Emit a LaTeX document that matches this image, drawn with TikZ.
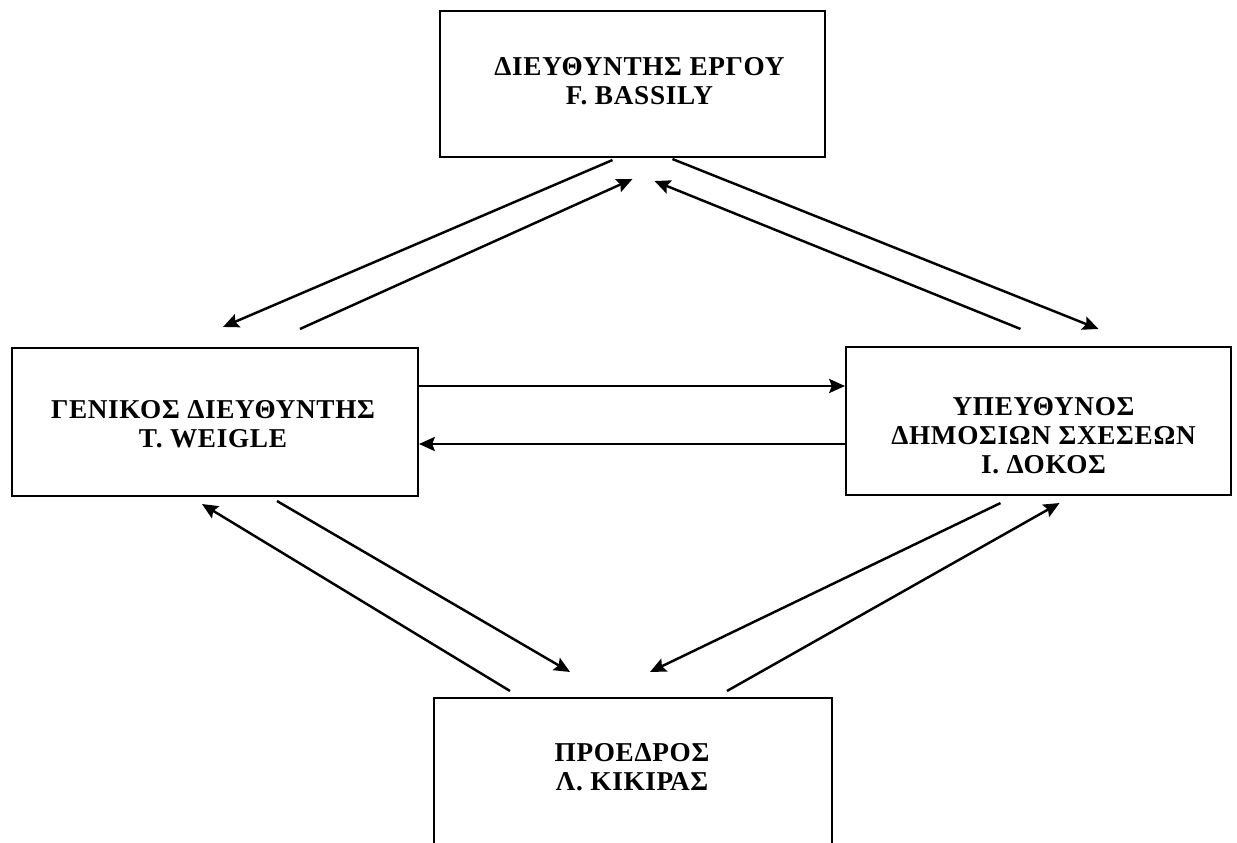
\documentclass[tikz,border=0pt]{standalone}
\usepackage{fontspec}
\setmainfont{Liberation Serif}[LetterSpace=2.5]
\usetikzlibrary{arrows.meta,calc}
\tikzset{
  >=Stealth,
  %% nodes
  post/.style  = {draw=black, line width=1.2pt, inner sep=0pt},
  title/.style = {font=\bfseries\fontsize{15.5}{16.5}\selectfont, align=center},
  %% arrows
  link/.style  = {-{Stealth[length=9pt,width=8pt,inset=1.5pt]}, draw=black, line width=1.4pt},
}
\begin{document}
\begin{tikzpicture}[x=0.02cm, y=-0.02cm]
\useasboundingbox (0,0) rectangle (1237,842);
\clip (0,0) rectangle (1237,842);

%% ============ boxes ============
\node[post, minimum width=7.7cm, minimum height=2.92cm] (dir) at (632.5,84) {};
\node[title] at ([shift={(7,-3)}]dir.center) {ΔΙΕΥΘΥΝΤΗΣ ΕΡΓΟΥ\\F. BASSILY};

\node[post, minimum width=8.12cm, minimum height=2.96cm] (gen) at (215,422) {};
\node[title] at ([shift={(-2,2)}]gen.center) {ΓΕΝΙΚΟΣ ΔΙΕΥΘΥΝΤΗΣ\\T. WEIGLE};

\node[post, minimum width=7.7cm, minimum height=2.96cm] (pr) at (1038.5,421) {};
\node[title] at ([shift={(5,15)}]pr.center) {ΥΠΕΥΘΥΝΟΣ\\ΔΗΜΟΣΙΩΝ ΣΧΕΣΕΩΝ\\Ι. ΔΟΚΟΣ};

\node[post, minimum width=7.96cm, minimum height=2.96cm] (pres) at (633,772) {};
\node[title] at ([shift={(-1,-5)}]pres.center) {ΠΡΟΕΔΡΟΣ\\Λ. ΚΙΚΙΡΑΣ};

%% ============ top pairs ============
\draw[link] ([shift={(-20,2)}]dir.south) -- ([shift={(8,-20)}]gen.north);
\draw[link] ([shift={(85,-18)}]gen.north) -- ([shift={(0,21)}]dir.south);
\draw[link] ([shift={(40,1)}]dir.south) -- ([shift={(60,-17)}]pr.north);
\draw[link] ([shift={(-18,-17)}]pr.north) -- ([shift={(22,23)}]dir.south);

%% ============ middle pair ============
\draw[link] ([shift={(0,-36)}]gen.east) -- ([shift={(0,-35)}]pr.west);
\draw[link] ([shift={(0,23)}]pr.west) -- ([shift={(0,22)}]gen.east);

%% ============ bottom pairs ============
\draw[link] ([shift={(-123,-6)}]pres.north) -- ([shift={(-13,7)}]gen.south);
\draw[link] ([shift={(62,4)}]gen.south) -- ([shift={(-63,-25)}]pres.north);
\draw[link] ([shift={(-38,7)}]pr.south) -- ([shift={(17,-25)}]pres.north);
\draw[link] ([shift={(94,-6)}]pres.north) -- ([shift={(21,7)}]pr.south);

\end{tikzpicture}
\end{document}
